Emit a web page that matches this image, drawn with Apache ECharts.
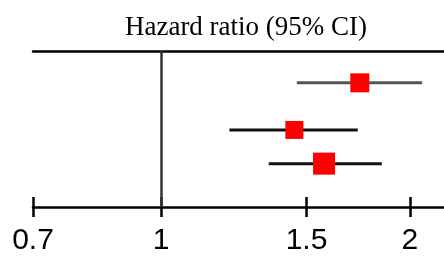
<!DOCTYPE html>
<html><head><meta charset="utf-8">
<script src="https://cdn.jsdelivr.net/npm/echarts@6/dist/echarts.min.js"></script>
<style>html,body{margin:0;padding:0;background:#fff}#c{width:444px;height:256px}</style>
</head><body><div id="c"></div>
<script>
const rowPos = [2.04, 5.06, 7.22];
const hr = [1.74, 1.45, 1.575];
const lower = [1.46, 1.21, 1.35];
const upper = [2.07, 1.73, 1.85];
const ciColors = ['#555555', '#111111', '#111111'];
const markerSizes = [19, 18, 22];
const tickValues = [0.7, 1, 1.5, 2];
const titleText = 'Hazard ratio (95% CI)';

const chart = echarts.init(document.getElementById('c'), null, {renderer: 'canvas'});
const ciSeries = rowPos.map((p, i) => ({
  type: 'line', xAxisIndex: 0, yAxisIndex: 0, symbol: 'none', silent: true,
  data: [[lower[i], p], [upper[i], p]],
  lineStyle: {color: ciColors[i], width: 3}, z: 2
}));
chart.setOption({
  animation: false,
  title: {text: titleText, left: 241, top: 9, textAlign: 'center',
    textStyle: {fontFamily: 'Liberation Serif', fontSize: 27, fontWeight: 'normal', color: '#000'}},
  grid: {left: 33, right: 0, top: 51, bottom: 43, containLabel: false},
  xAxis: [
    {type: 'log', min: 0.7, max: 2.2, position: 'bottom',
     axisLine: {show: true, onZero: false, lineStyle: {color: '#000', width: 2.5}},
     axisTick: {show: true, length: 10, customValues: tickValues, lineStyle: {color: '#000', width: 2.5}},
     axisLabel: {show: true, customValues: tickValues, margin: 19, fontFamily: 'Liberation Sans', fontSize: 30, color: '#000',
       formatter: v => String(v)},
     splitLine: {show: false}, minorTick: {show: false}},
    {type: 'log', min: 0.7, max: 2.2, position: 'bottom',
     axisLine: {show: false, onZero: false},
     axisTick: {show: true, inside: true, length: 10, customValues: tickValues, lineStyle: {color: '#000', width: 2.5}},
     axisLabel: {show: false}, splitLine: {show: false}},
    {type: 'log', min: 0.7, max: 2.2, position: 'top',
     axisLine: {show: true, onZero: false, lineStyle: {color: '#000', width: 2.5}},
     axisTick: {show: false}, axisLabel: {show: false}, splitLine: {show: false}}
  ],
  yAxis: {type: 'value', min: 0, max: 10, inverse: true, show: false},
  series: [
    ...ciSeries,
    {type: 'scatter', xAxisIndex: 0, symbol: 'rect',
     data: rowPos.map((p, i) => ({value: [hr[i], p], symbolSize: markerSizes[i]})),
     itemStyle: {color: '#ff0000', opacity: 1}, z: 5,
     markLine: {silent: true, symbol: 'none', label: {show: false},
       lineStyle: {color: '#333', width: 2.5, type: 'solid'},
       data: [{xAxis: 1}]}}
  ]
});
</script></body></html>
